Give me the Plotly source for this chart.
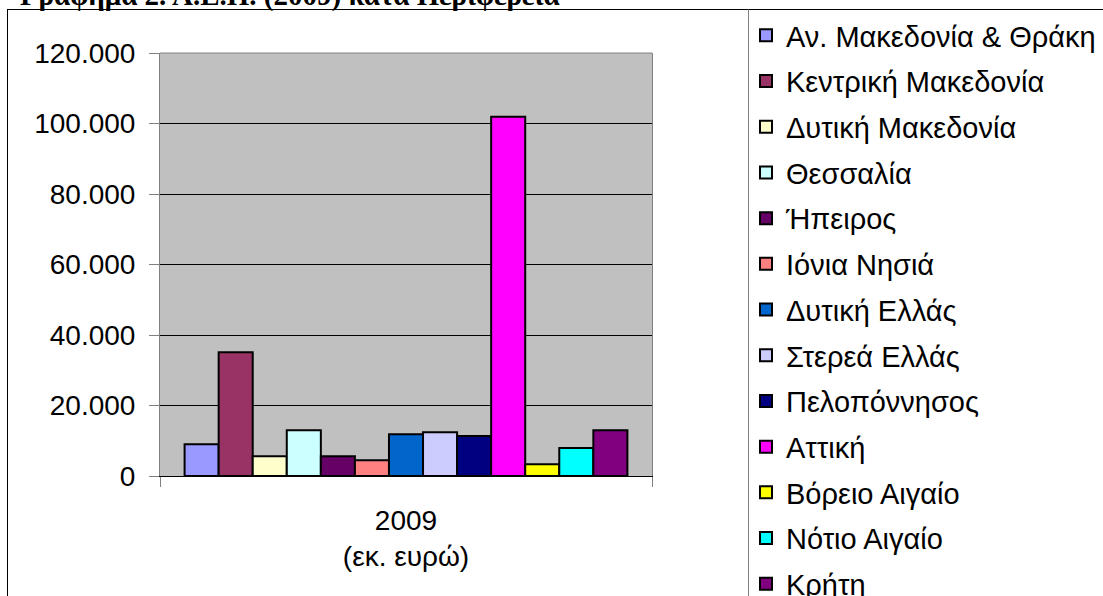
import plotly.graph_objects as go

regions = ["Αν. Μακεδονία & Θράκη", "Κεντρική Μακεδονία", "Δυτική Μακεδονία", "Θεσσαλία",
           "Ήπειρος", "Ιόνια Νησιά", "Δυτική Ελλάς", "Στερεά Ελλάς", "Πελοπόννησος",
           "Αττική", "Βόρειο Αιγαίο", "Νότιο Αιγαίο", "Κρήτη"]
gdp_2009 = [9000, 35100, 5600, 13000, 5600, 4450, 11850, 12400, 11350, 101900, 3300, 7950, 13000]
colors = ["#9999FF", "#993366", "#FFFFCC", "#CCFFFF", "#660066", "#FF8080", "#0066CC",
          "#CCCCFF", "#000080", "#FF00FF", "#FFFF00", "#00FFFF", "#800080"]
year_label = "2009"
unit_label = "(εκ. ευρώ)"
title_text = "Γράφημα 2. Α.Ε.Π. (2009) κατά Περιφέρεια"
y_ticks = [0, 20000, 40000, 60000, 80000, 100000, 120000]

W, H = 1103, 596
L, R, T, B = 160, 652, 53, 476


def px(x):
    return (x - L) / (R - L)


def py(y):
    return (B - y) / (B - T)


category = f"{year_label}<br>{unit_label}"
fig = go.Figure()
for i, (name, val, col) in enumerate(zip(regions, gdp_2009, colors)):
    fig.add_trace(go.Bar(
        x=[category], y=[val], name=name, legendgroup=str(i),
        marker=dict(color=col, line=dict(color="#000000", width=2)),
    ))

shapes = [
    dict(type="line", xref="paper", yref="paper", x0=px(7.5), x1=px(7.5), y0=py(9.5), y1=py(610),
         line=dict(color="#000000", width=1)),
    dict(type="line", xref="paper", yref="paper", x0=px(7), x1=px(1110), y0=py(9.5), y1=py(9.5),
         line=dict(color="#000000", width=1)),
    dict(type="line", xref="paper", yref="paper", x0=px(748.5), x1=px(748.5), y0=py(9.5), y1=py(610),
         line=dict(color="#808080", width=1)),
    dict(type="line", xref="paper", yref="paper", x0=0, x1=1, y0=1, y1=1,
         line=dict(color="#808080", width=1)),
]

fig.update_layout(
    width=W, height=H,
    margin=dict(l=L, r=W - R, t=T, b=H - B, pad=0, autoexpand=False),
    paper_bgcolor="#FFFFFF", plot_bgcolor="#C0C0C0",
    barmode="group", bargap=0.1, bargroupgap=0,
    separators=",.",
    font=dict(family="Liberation Sans, Arial, sans-serif", color="#000000", size=28),
    showlegend=True,
    legend=dict(
        xref="container", yref="container", x=746 / W, y=1 - 10 / H,
        xanchor="left", yanchor="top", maxheight=700,
        font=dict(size=29, family="Liberation Sans, Arial, sans-serif"),
        traceorder="grouped", tracegroupgap=5, bgcolor="rgba(0,0,0,0)",
        borderwidth=0,
    ),
    shapes=shapes,
    annotations=[dict(
        text=f"<b>{title_text}</b>", xref="paper", yref="paper",
        x=px(18), y=py(-4.5), xanchor="left", yanchor="middle", showarrow=False,
        font=dict(family="Liberation Serif, Times New Roman, serif", size=29, color="#000000"),
    )],
)
fig.update_xaxes(
    type="category", tickson="boundaries", ticks="outside", ticklen=10, tickcolor="#808080",
    showline=True, linecolor="#000000", linewidth=1, showgrid=False,
    tickfont=dict(size=28), ticklabelstandoff=19,
)
fig.update_yaxes(
    range=[0, 120000], tickvals=y_ticks, tickformat=",d", ticks="outside", ticklen=10,
    tickcolor="#808080", showline=True, linecolor="#808080", linewidth=1, mirror=True,
    showgrid=True, gridcolor="#000000", gridwidth=1, zeroline=False,
    tickfont=dict(size=28), ticklabelstandoff=8,
)
fig.write_html("out.html", config={"displayModeBar": False},
               post_script="document.body.style.margin='0';document.body.style.overflow='hidden';")
